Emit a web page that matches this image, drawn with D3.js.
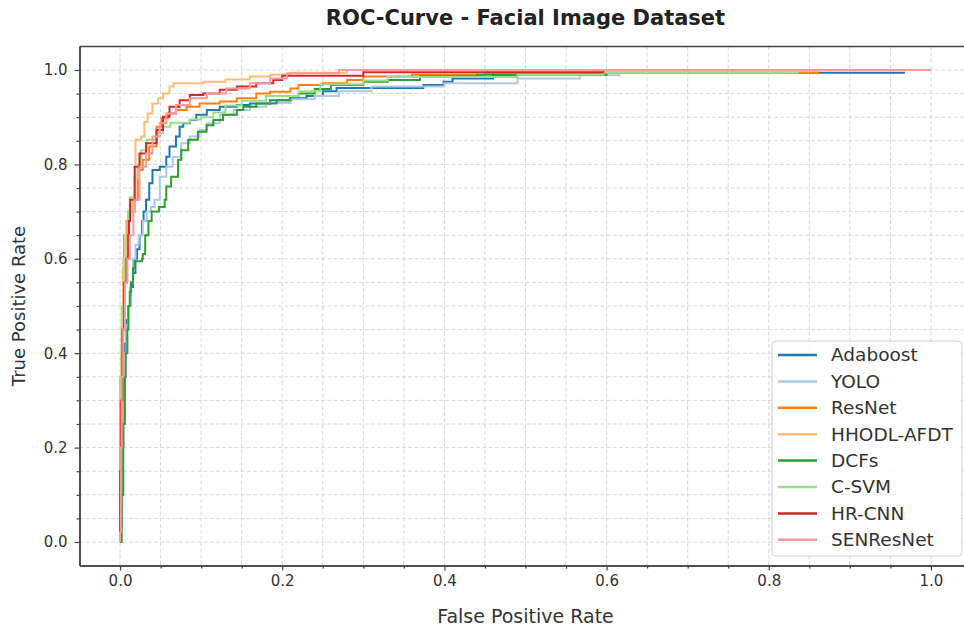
<!DOCTYPE html>
<html>
<head>
<meta charset="utf-8">
<script src="https://cdn.jsdelivr.net/npm/d3@7"></script>
<style>
  body { margin: 0; background: #fff; }
  svg { display: block; font-family: "DejaVu Sans", sans-serif; }
</style>
</head>
<body>
<script>
// ROC points [fpr, tpr]
var seriesNames = ['Adaboost', 'YOLO', 'ResNet', 'HHODL-AFDT', 'DCFs', 'C-SVM', 'HR-CNN', 'SENResNet'];

var adaboostRoc = [[0,0],[0,0.03],[0.002,0.2],[0.004,0.35],[0.006,0.42],[0.008,0.47],[0.01,0.5],[0.013,0.54],[0.016,0.57],
  [0.019,0.6],[0.021,0.62],[0.024,0.65],[0.027,0.68],[0.029,0.7],[0.032,0.725],[0.036,0.76],[0.04,0.788],[0.049,0.795],
  [0.057,0.816],[0.061,0.838],[0.069,0.859],[0.0735,0.88],[0.078,0.887],[0.086,0.894],[0.094,0.905],[0.107,0.915],
  [0.123,0.922],[0.144,0.926],[0.16,0.929],[0.185,0.936],[0.21,0.94],[0.23,0.945],[0.25,0.955],[0.267,0.962],
  [0.374,0.968],[0.399,0.975],[0.41,0.982],[0.46,0.99],[0.6,0.994],[0.968,0.994]];

var yoloRoc = [[0,0],[0.001,0.08],[0.003,0.25],[0.005,0.4],[0.008,0.46],[0.01,0.5],[0.013,0.55],[0.016,0.6],[0.019,0.63],
  [0.023,0.65],[0.028,0.68],[0.033,0.7],[0.038,0.71],[0.0425,0.725],[0.049,0.774],[0.057,0.795],[0.065,0.816],
  [0.0755,0.845],[0.086,0.859],[0.098,0.873],[0.107,0.887],[0.123,0.905],[0.14,0.915],[0.16,0.922],[0.18,0.93],
  [0.21,0.938],[0.24,0.945],[0.27,0.955],[0.31,0.965],[0.4,0.972],[0.49,0.982],[0.567,0.989],[0.617,0.989]];

var resnetRoc = [[0,0],[0,0.2],[0.002,0.4],[0.003,0.5],[0.004,0.58],[0.005,0.65],[0.008,0.68],[0.0103,0.7],[0.018,0.725],
  [0.022,0.788],[0.028,0.81],[0.036,0.838],[0.045,0.88],[0.051,0.898],[0.059,0.908],[0.069,0.915],[0.082,0.922],
  [0.098,0.929],[0.123,0.933],[0.144,0.94],[0.168,0.95],[0.185,0.954],[0.21,0.961],[0.22,0.968],[0.25,0.972],
  [0.28,0.979],[0.3,0.986],[0.36,0.99],[0.45,0.994],[0.862,0.994]];

var hhodlRoc = [[0,0],[0,0.3],[0.002,0.5],[0.004,0.6],[0.006,0.65],[0.009,0.68],[0.012,0.7],[0.0157,0.725],[0.019,0.852],
  [0.026,0.859],[0.03,0.89],[0.034,0.908],[0.04,0.929],[0.047,0.94],[0.053,0.95],[0.061,0.965],[0.066,0.972],
  [0.103,0.975],[0.13,0.98],[0.16,0.986],[0.185,0.99],[0.21,0.994],[0.28,1.0],[1.0,1.0]];

var dcfsRoc = [[0,0],[0.002,0.1],[0.004,0.25],[0.006,0.35],[0.007,0.4],[0.009,0.45],[0.0103,0.5],[0.012,0.53],[0.0136,0.55],
  [0.016,0.58],[0.018,0.595],[0.027,0.6],[0.028,0.61],[0.031,0.65],[0.035,0.68],[0.039,0.7],[0.048,0.71],[0.055,0.725],
  [0.057,0.753],[0.063,0.774],[0.0715,0.81],[0.0755,0.83],[0.084,0.852],[0.096,0.869],[0.1066,0.883],[0.115,0.894],
  [0.127,0.905],[0.144,0.915],[0.152,0.922],[0.168,0.929],[0.193,0.936],[0.21,0.944],[0.22,0.95],[0.24,0.96],
  [0.26,0.968],[0.3,0.975],[0.33,0.979],[0.37,0.987],[0.44,0.99],[0.6,0.995]];

var csvmRoc = [[0,0],[0,0.35],[0.002,0.45],[0.003,0.5],[0.005,0.55],[0.006,0.6],[0.008,0.65],[0.01,0.7],[0.012,0.73],
  [0.018,0.77],[0.022,0.8],[0.026,0.83],[0.033,0.852],[0.045,0.866],[0.053,0.88],[0.062,0.888],[0.086,0.895],
  [0.1,0.9],[0.115,0.91],[0.13,0.925],[0.15,0.935],[0.18,0.945],[0.22,0.955],[0.247,0.97],[0.3,0.978],[0.33,0.985],
  [0.49,0.99],[0.596,0.994],[0.837,0.994]];

var hrcnnRoc = [[0,0],[0,0.15],[0.001,0.3],[0.003,0.45],[0.005,0.55],[0.008,0.6],[0.01,0.65],[0.011,0.68],[0.0124,0.725],
  [0.018,0.795],[0.024,0.823],[0.032,0.845],[0.045,0.873],[0.053,0.901],[0.061,0.922],[0.0735,0.936],[0.086,0.947],
  [0.1025,0.95],[0.123,0.958],[0.144,0.965],[0.168,0.972],[0.189,0.979],[0.2,0.988],[0.3,0.995],[0.596,1.0],[1.0,1.0]];

var senresnetRoc = [[0,0],[0,0.02],[0.001,0.2],[0.002,0.35],[0.004,0.45],[0.006,0.55],[0.009,0.6],[0.012,0.65],
  [0.0165,0.7],[0.018,0.725],[0.024,0.795],[0.032,0.823],[0.04,0.859],[0.049,0.887],[0.057,0.908],[0.069,0.926],
  [0.086,0.94],[0.107,0.95],[0.131,0.961],[0.16,0.972],[0.185,0.982],[0.206,0.993],[0.27,1.0],[1.0,1.0]];

var seriesRoc = [adaboostRoc, yoloRoc, resnetRoc, hhodlRoc, dcfsRoc, csvmRoc, hrcnnRoc, senresnetRoc];
var seriesColors = ['#1f77b4', '#aec7e8', '#ff7f0e', '#ffbb78', '#2ca02c', '#98df8a', '#d62728', '#ff9896'];

var majorTicks = [0, 0.2, 0.4, 0.6, 0.8, 1.0];
var minorTicks = [0.05, 0.1, 0.15, 0.25, 0.3, 0.35, 0.45, 0.5, 0.55, 0.65, 0.7, 0.75, 0.85, 0.9, 0.95];

var canvasWidth = 964;
var canvasHeight = 629;

var svg = d3.select('body').append('svg')
  .attr('width', canvasWidth)
  .attr('height', canvasHeight);

var xScale = d3.scaleLinear().domain([-0.05, 1.05]).range([79.5, 971.5]);
var yScale = d3.scaleLinear().domain([-0.05, 1.05]).range([565.6, 46.4]);

var plotLeft = xScale.range()[0], plotRight = xScale.range()[1];
var plotTop = yScale.range()[1], plotBottom = yScale.range()[0];

// grid (major + minor, dashed)
var gridVals = majorTicks.concat(minorTicks);
var grid = svg.append('g');
grid.selectAll('line.gx').data(gridVals).enter().append('line')
  .attr('class', 'gx')
  .attr('x1', d => xScale(d)).attr('x2', d => xScale(d))
  .attr('y1', plotTop).attr('y2', plotBottom);
grid.selectAll('line.gy').data(gridVals).enter().append('line')
  .attr('class', 'gy')
  .attr('y1', d => yScale(d)).attr('y2', d => yScale(d))
  .attr('x1', plotLeft).attr('x2', plotRight);
grid.selectAll('line')
  .attr('stroke', '#d4d4d4')
  .attr('stroke-width', 0.9)
  .attr('stroke-dasharray', '4,2.2');

// curves
var line = d3.line()
  .x(d => xScale(d[0]))
  .y(d => yScale(d[1]))
  .curve(d3.curveStepAfter);

svg.append('g').selectAll('path')
  .data(seriesRoc)
  .enter().append('path')
  .attr('fill', 'none')
  .attr('stroke', (d, i) => seriesColors[i])
  .attr('stroke-width', 2)
  .attr('d', line);

// axes
var axisColor = '#444';
var fmt = d3.format('.1f');

svg.append('g').attr('transform', 'translate(0,' + plotBottom + ')')
  .call(d3.axisBottom(xScale).tickValues(majorTicks).tickFormat(fmt).tickSize(5).tickPadding(5).tickSizeOuter(0));
svg.append('g').attr('transform', 'translate(0,' + plotBottom + ')')
  .call(d3.axisBottom(xScale).tickValues(minorTicks).tickFormat('').tickSize(3).tickSizeOuter(0));

svg.append('g').attr('transform', 'translate(' + plotLeft + ',0)')
  .call(d3.axisLeft(yScale).tickValues(majorTicks).tickFormat(fmt).tickSize(5).tickPadding(7).tickSizeOuter(0));
svg.append('g').attr('transform', 'translate(' + plotLeft + ',0)')
  .call(d3.axisLeft(yScale).tickValues(minorTicks).tickFormat('').tickSize(3).tickSizeOuter(0));

svg.selectAll('.domain').attr('stroke', axisColor).attr('stroke-width', 1.5);
svg.selectAll('.tick line').attr('stroke', axisColor).attr('stroke-width', 1.2);
svg.selectAll('.tick text')
  .attr('fill', '#333')
  .attr('font-size', '15px')
  .attr('font-family', '"DejaVu Sans", sans-serif');

// top spine
svg.append('line')
  .attr('x1', plotLeft).attr('x2', plotRight)
  .attr('y1', plotTop).attr('y2', plotTop)
  .attr('stroke', axisColor).attr('stroke-width', 1.5);

// titles
svg.append('text')
  .attr('x', (plotLeft + plotRight) / 2)
  .attr('y', 25)
  .attr('text-anchor', 'middle')
  .attr('font-size', '21px')
  .attr('font-weight', 'bold')
  .attr('fill', '#222')
  .text('ROC-Curve - Facial Image Dataset');

svg.append('text')
  .attr('x', (plotLeft + plotRight) / 2)
  .attr('y', 623)
  .attr('text-anchor', 'middle')
  .attr('font-size', '19px')
  .attr('fill', '#333')
  .text('False Positive Rate');

svg.append('text')
  .attr('transform', 'translate(25,' + ((plotTop + plotBottom) / 2) + ') rotate(-90)')
  .attr('text-anchor', 'middle')
  .attr('font-size', '18px')
  .attr('fill', '#333')
  .text('True Positive Rate');

// legend
var legend = svg.append('g');
legend.append('rect')
  .attr('x', 772).attr('y', 341)
  .attr('width', 190).attr('height', 215)
  .attr('rx', 4)
  .attr('fill', '#fff').attr('fill-opacity', 0.85)
  .attr('stroke', '#d0d0d0');

var items = legend.selectAll('g.item')
  .data(seriesNames)
  .enter().append('g')
  .attr('transform', (d, i) => 'translate(0,' + (355 + i * 26.4) + ')');
items.append('line')
  .attr('x1', 778).attr('x2', 817)
  .attr('stroke', (d, i) => seriesColors[i])
  .attr('stroke-width', 2.5);
items.append('text')
  .attr('x', 831)
  .attr('dy', '0.35em')
  .attr('font-size', '18.5px')
  .attr('fill', '#333')
  .text(d => d);
</script>
</body>
</html>
